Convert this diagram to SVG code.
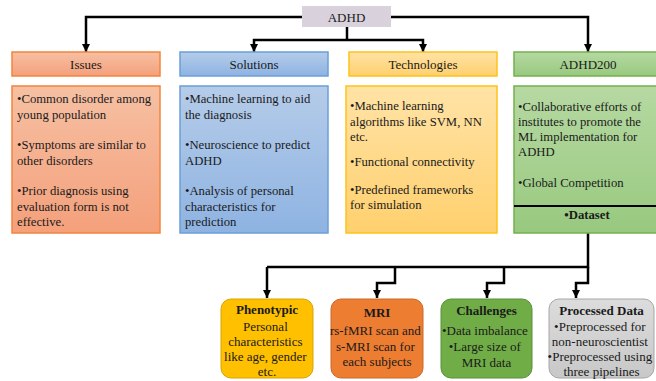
<svg xmlns="http://www.w3.org/2000/svg" width="656" height="381" viewBox="0 0 656 381" font-family="'Liberation Serif', 'Times New Roman', serif">
  <defs>
    <linearGradient id="gOrange" x1="0" y1="0" x2="0" y2="1">
      <stop offset="0" stop-color="#f6c0a3"/>
      <stop offset="1" stop-color="#f4a07b"/>
    </linearGradient>
    <linearGradient id="gBlue" x1="0" y1="0" x2="0" y2="1">
      <stop offset="0" stop-color="#b5cce9"/>
      <stop offset="1" stop-color="#8eb3e2"/>
    </linearGradient>
    <linearGradient id="gYellow" x1="0" y1="0" x2="0" y2="1">
      <stop offset="0" stop-color="#ffe3a6"/>
      <stop offset="1" stop-color="#ffd06e"/>
    </linearGradient>
    <linearGradient id="gGreen" x1="0" y1="0" x2="0" y2="1">
      <stop offset="0" stop-color="#b6d9a2"/>
      <stop offset="1" stop-color="#98c97f"/>
    </linearGradient>
    <linearGradient id="gGrey" x1="0" y1="0" x2="0" y2="1">
      <stop offset="0" stop-color="#dcdcdc"/>
      <stop offset="1" stop-color="#c8c8c8"/>
    </linearGradient>
    <marker id="arr" viewBox="0 0 10 10" refX="10" refY="5" markerWidth="3.2" markerHeight="3.2" orient="auto">
      <path d="M0,0 L10,5 L0,10 z" fill="#000"/>
    </marker>
  </defs>
  <style>
    text { font-family: 'Liberation Serif', 'Times New Roman', serif; fill: #1a1a1a; }
    .hdr { font-size: 13px; text-anchor: middle; }
    .body { font-size: 12.7px; }
    .bt { font-size: 13px; text-anchor: middle; }
    .b { font-weight: bold; }
    .conn { fill: none; stroke: #000; stroke-width: 2.5; marker-end: url(#arr); }
    .plain { fill: none; stroke: #000; stroke-width: 2.5; }
  </style>

  <!-- connectors -->
  <g id="connectors">
    <path class="conn" d="M302,17 H86 V52"/>
    <path class="conn" d="M391,17 H588 V52"/>
    <path class="plain" d="M347,27 V40"/>
    <path class="conn" d="M347,40 H254 V52"/>
    <path class="conn" d="M347,40 H423 V52"/>
    <path class="plain" d="M588,233 V267 H267"/>
    <path class="conn" d="M267,267 V298"/>
    <path class="conn" d="M395,267 V283 H377 V298"/>
    <path class="conn" d="M504,267 V283 H487 V298"/>
    <path class="conn" d="M588,267 V283 H576 V298"/>
  </g>

  <!-- root -->
  <g id="adhd">
    <rect x="302" y="6" width="89" height="21" fill="#d9d2dc"/>
    <text class="hdr" x="346.5" y="21.5">ADHD</text>
  </g>

  <!-- Issues -->
  <g id="issues">
    <rect x="12" y="52" width="148" height="24" fill="url(#gOrange)" stroke="#f3843c" stroke-width="1.5"/>
    <text class="hdr" x="86" y="68.5">Issues</text>
    <rect x="12" y="86" width="148" height="147" fill="url(#gOrange)" stroke="#f3843c" stroke-width="1.5"/>
    <text class="body">
      <tspan x="17" y="103">•Common disorder among</tspan>
      <tspan x="17" y="119">young population</tspan>
      <tspan x="17" y="149">•Symptoms are similar to</tspan>
      <tspan x="17" y="165">other disorders</tspan>
      <tspan x="17" y="195">•Prior diagnosis using</tspan>
      <tspan x="17" y="211">evaluation form is not</tspan>
      <tspan x="17" y="226">effective.</tspan>
    </text>
  </g>

  <!-- Solutions -->
  <g id="solutions">
    <rect x="180" y="52" width="148" height="24" fill="url(#gBlue)" stroke="#6a9fd8" stroke-width="1.5"/>
    <text class="hdr" x="254" y="68.5">Solutions</text>
    <rect x="180" y="86" width="148" height="147" fill="url(#gBlue)" stroke="#6a9fd8" stroke-width="1.5"/>
    <text class="body">
      <tspan x="185" y="103">•Machine learning to aid</tspan>
      <tspan x="185" y="119">the diagnosis</tspan>
      <tspan x="185" y="149">•Neuroscience to predict</tspan>
      <tspan x="185" y="165">ADHD</tspan>
      <tspan x="185" y="195">•Analysis of personal</tspan>
      <tspan x="185" y="211">characteristics for</tspan>
      <tspan x="185" y="226">prediction</tspan>
    </text>
  </g>

  <!-- Technologies -->
  <g id="technologies">
    <rect x="349" y="52" width="148" height="24" fill="url(#gYellow)" stroke="#ffc21a" stroke-width="1.5"/>
    <text class="hdr" x="423" y="68.5">Technologies</text>
    <rect x="346" y="86" width="151" height="147" fill="url(#gYellow)" stroke="#ffc21a" stroke-width="1.5"/>
    <text class="body">
      <tspan x="350" y="110">•Machine learning</tspan>
      <tspan x="350" y="126">algorithms like SVM, NN</tspan>
      <tspan x="350" y="141">etc.</tspan>
      <tspan x="350" y="166">•Functional connectivity</tspan>
      <tspan x="350" y="194">•Predefined frameworks</tspan>
      <tspan x="350" y="209">for simulation</tspan>
    </text>
  </g>

  <!-- ADHD200 -->
  <g id="adhd200">
    <rect x="514" y="52" width="146" height="24" fill="url(#gGreen)" stroke="#74b04f" stroke-width="1.5"/>
    <text class="hdr" x="588" y="68.5">ADHD200</text>
    <rect x="514" y="86" width="146" height="147" fill="url(#gGreen)" stroke="#74b04f" stroke-width="1.5"/>
    <line x1="514" y1="206" x2="660" y2="206" stroke="#000" stroke-width="2"/>
    <text class="body">
      <tspan x="518" y="111">•Collaborative efforts of</tspan>
      <tspan x="518" y="126">institutes to promote the</tspan>
      <tspan x="518" y="141">ML implementation for</tspan>
      <tspan x="518" y="156">ADHD</tspan>
      <tspan x="518" y="187">•Global Competition</tspan>
    </text>
    <text class="body b" x="587" y="219" text-anchor="middle">•Dataset</text>
  </g>

  <!-- Phenotypic -->
  <g id="phenotypic">
    <rect x="221" y="299" width="92" height="79" rx="10" fill="#ffc000" stroke="#d9a400" stroke-width="1"/>
    <text class="bt b" x="267" y="314">Phenotypic</text>
    <text class="bt">
      <tspan x="267" y="331">Personal</tspan>
      <tspan x="267" y="346">characteristics</tspan>
      <tspan x="267" y="361">like age, gender</tspan>
      <tspan x="267" y="376">etc.</tspan>
    </text>
  </g>

  <!-- MRI -->
  <g id="mri">
    <rect x="331" y="299" width="92" height="79" rx="10" fill="#ed7d31" stroke="#c9692a" stroke-width="1"/>
    <text class="bt b" x="377" y="317">MRI</text>
    <text class="bt">
      <tspan x="377" y="335">rs-fMRI scan and</tspan>
      <tspan x="377" y="351">s-MRI scan for</tspan>
      <tspan x="377" y="366">each subjects</tspan>
    </text>
  </g>

  <!-- Challenges -->
  <g id="challenges">
    <rect x="441" y="299" width="91" height="79" rx="10" fill="#70ad47" stroke="#5a8f38" stroke-width="1"/>
    <text class="bt b" x="486.5" y="315">Challenges</text>
    <text class="bt">
      <tspan x="486.5" y="335">•Data imbalance</tspan>
      <tspan x="486.5" y="351">•Large size of</tspan>
      <tspan x="486.5" y="367">MRI data</tspan>
    </text>
  </g>

  <!-- Processed Data -->
  <g id="processed">
    <rect x="549" y="299" width="105" height="79" rx="10" fill="url(#gGrey)" stroke="#a6a6a6" stroke-width="1"/>
    <text class="bt b" x="601.5" y="315">Processed Data</text>
    <text class="bt">
      <tspan x="601.5" y="331">•Preprocessed for</tspan>
      <tspan x="601.5" y="346">non-neuroscientist</tspan>
      <tspan x="601.5" y="361">•Preprocessed using</tspan>
      <tspan x="601.5" y="376">three pipelines</tspan>
    </text>
  </g>
</svg>
